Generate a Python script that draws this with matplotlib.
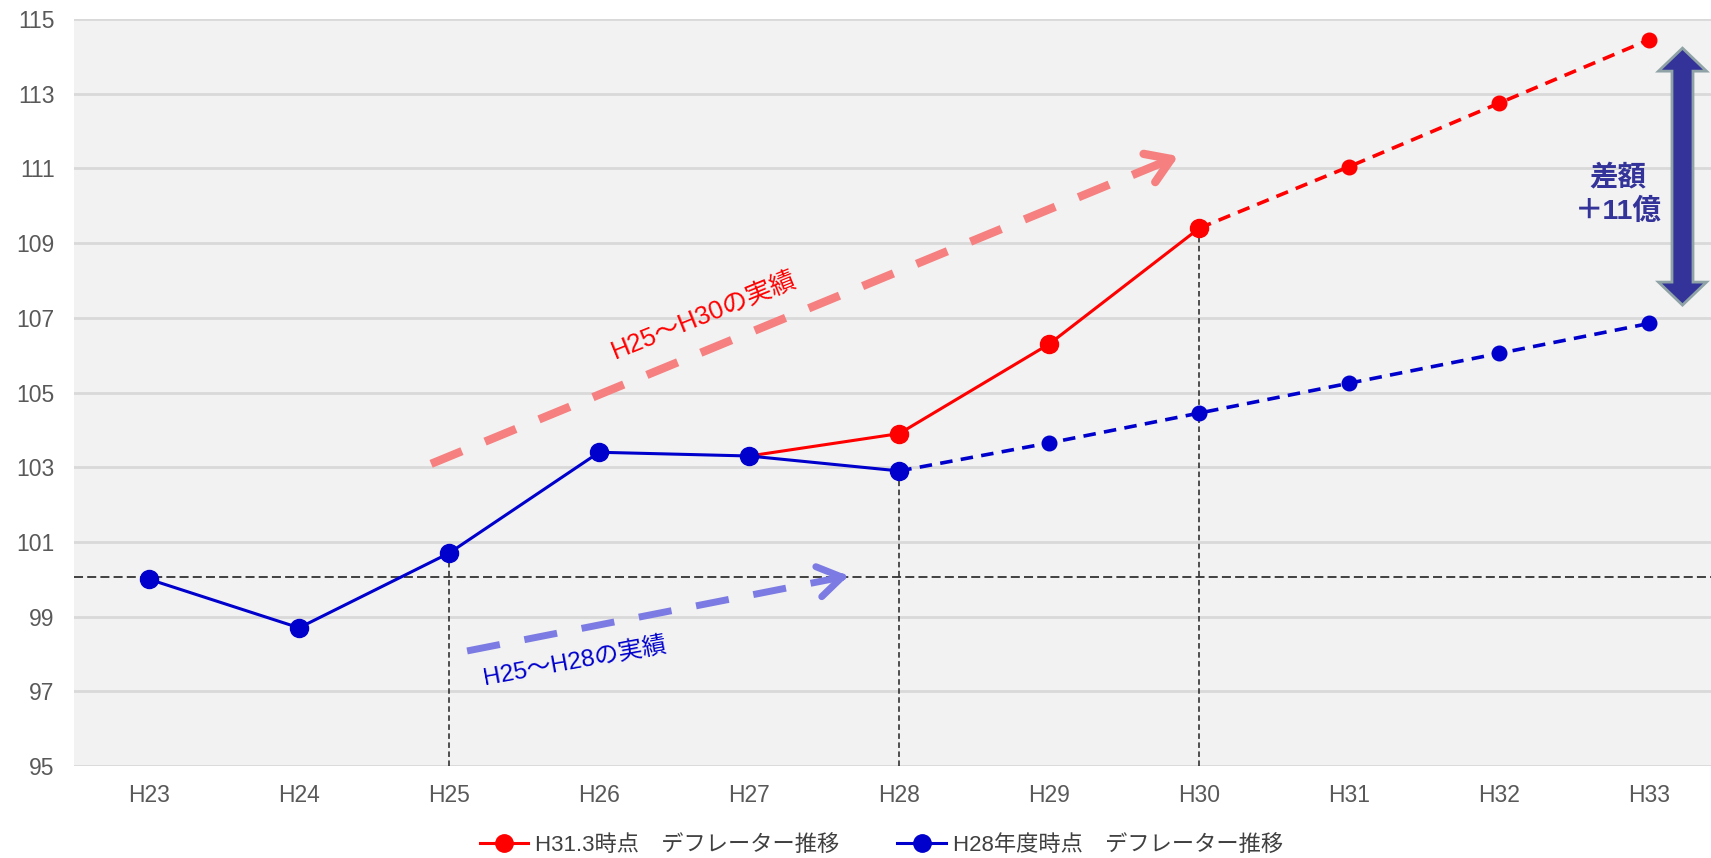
import numpy as np
import matplotlib
matplotlib.use('Agg')
import matplotlib.pyplot as plt
from matplotlib.lines import Line2D
from matplotlib.patches import Polygon

plt.rcParams['font.family'] = ['Liberation Sans', 'Noto Sans CJK JP']
plt.rcParams['lines.scale_dashes'] = False

years = ['H23', 'H24', 'H25', 'H26', 'H27', 'H28', 'H29', 'H30', 'H31', 'H32', 'H33']
red_vals = [np.nan, np.nan, np.nan, np.nan, 103.3, 103.9, 106.3, 109.4, 111.05, 112.75, 114.45]
blue_vals = [100.0, 98.7, 100.7, 103.4, 103.3, 102.9, 103.65, 104.45, 105.25, 106.05, 106.85]
red_last_actual = 7   # H30
blue_last_actual = 5  # H28
red_label = 'H31.3時点　デフレーター推移'
blue_label = 'H28年度時点　デフレーター推移'
base_level = 100.05
guide_years = [2, 5, 7]

# annotation arrows (data coords)
red_arrow = [(1.88, 103.09), (6.86, 111.33)]
blue_arrow = [(2.12, 98.08), (4.66, 100.09)]
red_note = (3.70, 107.05, 'H25〜H30の実績', 22)
blue_note = (2.84, 97.80, 'H25〜H28の実績', 10.5)
diff_x, diff_top, diff_bot = 10.22, 114.22, 107.34
diff_text = '差額\n＋11億'

RED = '#ff0000'
BLUE = '#0000cc'

fig = plt.figure(figsize=(17.11, 8.58), dpi=100)
ax = fig.add_axes([74 / 1711, 1 - 766 / 858, 1 - 74 / 1711, (766 - 19) / 858])
ax.set_facecolor('#f2f2f2')
for s in ax.spines.values():
    s.set_visible(False)

x = np.arange(len(years))
ax.set_xlim(-0.5, 10.41)
ax.set_ylim(95, 115)
ax.set_yticks(np.arange(95, 116, 2))
ax.set_xticks(x, years)
ax.tick_params(length=0, labelsize=16.5, labelcolor='#595959')
ax.tick_params(axis='y', pad=14)
ax.tick_params(axis='x', pad=13)
ax.grid(axis='y', color='#d9d9d9', lw=2)
ax.set_axisbelow(True)

# reference lines
ax.axhline(base_level, color='#333333', lw=1.3, dashes=(6.5, 3), zorder=2)
guide_tops = [blue_vals[2], blue_vals[5], red_vals[7]]
ax.vlines(guide_years, 95, guide_tops, colors='#222222', lw=1.1,
          linestyles=(0, (4, 2.5)), zorder=2)

# red series
r = red_last_actual
ax.plot(x[4:r + 1], red_vals[4:r + 1], color=RED, lw=2.2, zorder=3)
ax.plot(x[5:r + 1], red_vals[5:r + 1], 'o', color=RED, ms=13, zorder=3)
ax.plot(x[r:], red_vals[r:], color=RED, lw=2.6, dashes=(9, 6), zorder=3)
ax.plot(x[r + 1:], red_vals[r + 1:], 'o', color=RED, ms=10.5, zorder=3)

# blue series
b = blue_last_actual
ax.plot(x[:b + 1], blue_vals[:b + 1], color=BLUE, lw=2.2, marker='o', ms=13, zorder=4)
ax.plot(x[b:], blue_vals[b:], color=BLUE, lw=2.6, dashes=(9, 6), zorder=4)
ax.plot(x[b + 1:], blue_vals[b + 1:], 'o', color=BLUE, ms=10.5, zorder=4)


def dashed_arrow(pts, color, lw):
    (x0, y0), (x1, y1) = pts
    ax.plot([x0, x1 - 0.01 * (x1 - x0)], [y0, y1 - 0.01 * (y1 - y0)], color=color,
            lw=lw, dashes=(24, 18), dash_capstyle='butt', zorder=5)
    hx, hy = x1 - 0.02 * (x1 - x0), y1 - 0.02 * (y1 - y0)
    ax.annotate('', xy=(x1, y1), xytext=(hx, hy), zorder=5,
                arrowprops=dict(arrowstyle='->,head_length=17,head_width=11',
                                mutation_scale=1, color=color, lw=lw,
                                shrinkA=0, shrinkB=0, capstyle='round',
                                joinstyle='round'))


dashed_arrow(red_arrow, '#f68080', 6)
dashed_arrow(blue_arrow, '#7b7be3', 5)

ax.text(red_note[0], red_note[1], red_note[2], color=RED, fontsize=18.5,
        rotation=red_note[3], ha='center', va='center', rotation_mode='anchor')
ax.text(blue_note[0], blue_note[1], blue_note[2], color=BLUE, fontsize=17.5,
        rotation=blue_note[3], ha='center', va='center', rotation_mode='anchor')

# double headed arrow, shape built in pixels
(cx, ty), (_, by) = ax.transData.transform([(diff_x, diff_top), (diff_x, diff_bot)])
bw, hw, hl = 10.5, 24, 23
shape = [(cx, ty), (cx + hw, ty - hl), (cx + bw, ty - hl), (cx + bw, by + hl),
         (cx + hw, by + hl), (cx, by), (cx - hw, by + hl), (cx - bw, by + hl),
         (cx - bw, ty - hl), (cx - hw, ty - hl)]
shape = ax.transData.inverted().transform(shape)
ax.add_patch(Polygon(shape, closed=True, facecolor='#333399', edgecolor='#8fa3a6',
                     lw=2, zorder=5))
ax.text(9.79, 110.3, diff_text, color='#333399', fontsize=20.5, fontweight='bold',
        ha='center', va='center', multialignment='center', linespacing=1.3)

handles = [Line2D([], [], color=RED, lw=2.2, marker='o', ms=12.5),
           Line2D([], [], color=BLUE, lw=2.2, marker='o', ms=12.5)]
fig.legend(handles, [red_label, blue_label], loc='center', bbox_to_anchor=(0.515, 0.015),
           ncol=2, frameon=False, fontsize=16, handlelength=2.2, handletextpad=0.3,
           columnspacing=2.6, labelcolor='#404040')

fig.savefig('out.png', dpi=100, facecolor='white')
